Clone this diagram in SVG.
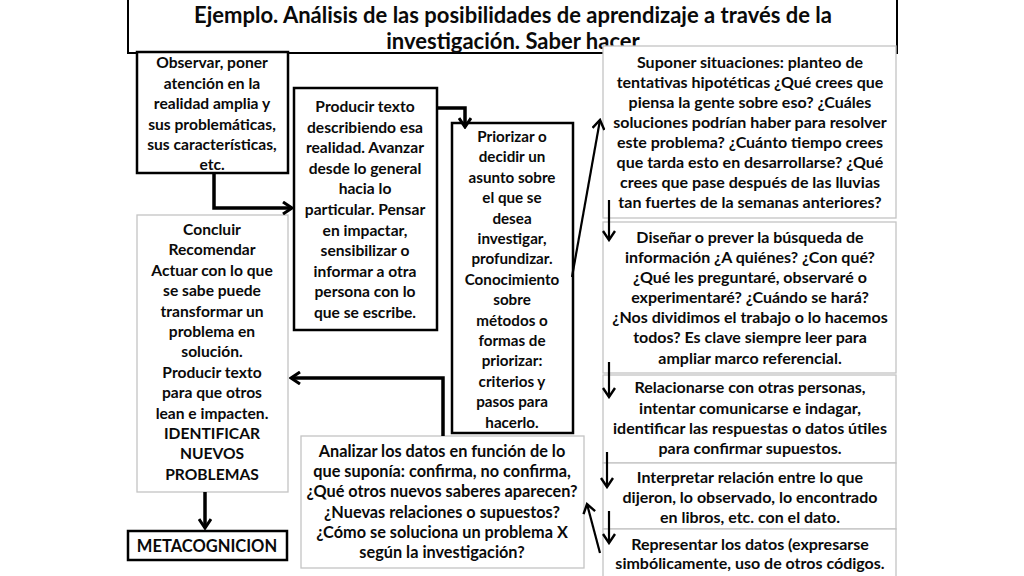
<svg xmlns="http://www.w3.org/2000/svg" width="1024" height="576" viewBox="0 0 1024 576">
<defs>
<style>
.bk{fill:#fff;stroke:#000;stroke-width:2.5}
.gr{fill:#fff;stroke:#c4c4c4;stroke-width:1.3}
text{font-family:Lato,"Liberation Sans",sans-serif;font-weight:bold;font-size:15.6px;text-anchor:middle;fill:#0a0a0a}
.r{font-size:16px}
.a{font-size:16.3px}
.ttl{font-size:22px}
.c{fill:none;stroke:#000;stroke-width:3.5}
.t{fill:none;stroke:#000;stroke-width:2.2}
</style>
<marker id="ah" markerUnits="userSpaceOnUse" viewBox="0 0 12 14" refX="10" refY="7" markerWidth="12" markerHeight="14" orient="auto">
<path d="M1,1 L10,7 L1,13" fill="none" stroke="#000" stroke-width="3"/>
</marker>
<marker id="ahs" markerUnits="userSpaceOnUse" viewBox="0 0 12 14" refX="10" refY="7" markerWidth="12" markerHeight="14" orient="auto">
<path d="M1,1 L10,7 L1,13" fill="none" stroke="#000" stroke-width="2.4"/>
</marker>
</defs>
<rect width="1024" height="576" fill="#fff"/>

<g id="title">
<rect x="128" y="-3" width="769" height="56" fill="#fff" stroke="#000" stroke-width="2"/>
<text class="ttl" x="513" y="23">Ejemplo. Análisis de las posibilidades de aprendizaje a través de la</text>
<text class="ttl" x="513" y="49">investigación. Saber hacer</text>
</g>

<g id="observar">
<rect class="bk" x="137" y="52" width="151" height="121"/>
<text><tspan x="212" y="68">Observar, poner</tspan><tspan x="212" y="88.5">atención en la</tspan><tspan x="212" y="109">realidad amplia y</tspan><tspan x="212" y="129.5">sus problemáticas,</tspan><tspan x="212" y="150">sus características,</tspan><tspan x="212" y="170">etc.</tspan></text>
</g>

<g id="producir">
<rect class="bk" x="294" y="88" width="143" height="242"/>
<text><tspan x="365" y="112">Producir texto</tspan><tspan x="365" y="132.6">describiendo esa</tspan><tspan x="365" y="153.2">realidad.  Avanzar</tspan><tspan x="365" y="173.8">desde lo general</tspan><tspan x="365" y="194.4">hacia lo</tspan><tspan x="365" y="215">particular. Pensar</tspan><tspan x="365" y="235.6">en impactar,</tspan><tspan x="365" y="256.2">sensibilizar o</tspan><tspan x="365" y="276.8">informar a otra</tspan><tspan x="365" y="297.4">persona con lo</tspan><tspan x="365" y="318">que se escribe.</tspan></text>
</g>

<g id="priorizar">
<rect class="bk" x="452" y="123" width="121" height="310"/>
<text style="font-size:15.2px"><tspan x="512" y="142">Priorizar o</tspan><tspan x="512" y="162.4">decidir un</tspan><tspan x="512" y="182.8">asunto sobre</tspan><tspan x="512" y="203.2">el que se</tspan><tspan x="512" y="223.6">desea</tspan><tspan x="512" y="244">investigar,</tspan><tspan x="512" y="264.4">profundizar.</tspan><tspan x="512" y="284.8">Conocimiento</tspan><tspan x="512" y="305.2">sobre</tspan><tspan x="512" y="325.6">métodos o</tspan><tspan x="512" y="346">formas de</tspan><tspan x="512" y="366.4">priorizar:</tspan><tspan x="512" y="386.8">criterios y</tspan><tspan x="512" y="407.2">pasos para</tspan><tspan x="512" y="427.6">hacerlo.</tspan></text>
</g>

<g id="suponer">
<rect class="gr" x="603" y="46" width="293" height="172"/>
<text class="r"><tspan x="750" y="68">Suponer situaciones: planteo de</tspan><tspan x="750" y="88">tentativas hipotéticas ¿Qué crees que</tspan><tspan x="750" y="108">piensa la gente sobre eso? ¿Cuáles</tspan><tspan x="750" y="127.5">soluciones podrían haber para resolver</tspan><tspan x="750" y="147.5">este problema? ¿Cuánto tiempo crees</tspan><tspan x="750" y="167.5">que tarda esto en desarrollarse? ¿Qué</tspan><tspan x="750" y="187.5">crees que pase después de las lluvias</tspan><tspan x="750" y="208">tan fuertes de la semanas anteriores?</tspan></text>
</g>

<g id="disenar">
<rect class="gr" x="603" y="222" width="293" height="151"/>
<text class="r"><tspan x="750" y="243">Diseñar o prever la búsqueda de</tspan><tspan x="750" y="263">información ¿A quiénes? ¿Con qué?</tspan><tspan x="750" y="283">¿Qué les preguntaré, observaré o</tspan><tspan x="750" y="303">experimentaré? ¿Cuándo se hará?</tspan><tspan x="750" y="323">¿Nos dividimos el trabajo o lo hacemos</tspan><tspan x="750" y="343">todos?  Es clave siempre leer para</tspan><tspan x="750" y="364">ampliar marco referencial.</tspan></text>
</g>

<g id="relacionarse">
<rect class="gr" x="603" y="375" width="293" height="88"/>
<text class="r"><tspan x="750" y="393">Relacionarse con otras personas,</tspan><tspan x="750" y="413.5">intentar comunicarse e indagar,</tspan><tspan x="750" y="433.5">identificar las respuestas o datos  útiles</tspan><tspan x="750" y="453.5">para confirmar supuestos.</tspan></text>
</g>

<g id="interpretar">
<rect class="gr" x="603" y="463" width="293" height="66"/>
<text class="r"><tspan x="750" y="483">Interpretar relación entre lo que</tspan><tspan x="750" y="503">dijeron, lo observado, lo encontrado</tspan><tspan x="750" y="523">en libros, etc. con el dato.</tspan></text>
</g>

<g id="representar">
<rect class="gr" x="603" y="529" width="293" height="52"/>
<text class="r"><tspan x="750" y="550">Representar los datos (expresarse</tspan><tspan x="750" y="569">simbólicamente, uso de otros códigos.</tspan></text>
</g>

<g id="analizar">
<rect class="gr" x="301" y="436" width="283" height="132"/>
<text class="a"><tspan x="442" y="457">Analizar los datos en función de lo</tspan><tspan x="442" y="477">que suponía: confirma, no confirma,</tspan><tspan x="442" y="497">¿Qué otros nuevos saberes aparecen?</tspan><tspan x="442" y="517.5">¿Nuevas relaciones o supuestos?</tspan><tspan x="442" y="538">¿Cómo se soluciona un problema X</tspan><tspan x="442" y="558">según la investigación?</tspan></text>
</g>

<g id="concluir">
<rect class="gr" x="137" y="215" width="151" height="277"/>
<text><tspan x="212" y="235">Concluir</tspan><tspan x="212" y="255.4">Recomendar</tspan><tspan x="212" y="275.8">Actuar con lo que</tspan><tspan x="212" y="296.2">se sabe puede</tspan><tspan x="212" y="316.6">transformar un</tspan><tspan x="212" y="337">problema en</tspan><tspan x="212" y="357.4">solución.</tspan><tspan x="212" y="377.8">Producir texto</tspan><tspan x="212" y="398.2">para que otros</tspan><tspan x="212" y="418.6">lean e impacten.</tspan><tspan x="212" y="439">IDENTIFICAR</tspan><tspan x="212" y="459.4">NUEVOS</tspan><tspan x="212" y="479.8">PROBLEMAS</tspan></text>
</g>

<g id="metacognicion">
<rect class="bk" x="128" y="531" width="159" height="29"/>
<text x="207" y="552" style="font-size:16.5px">METACOGNICION</text>
</g>

<g id="connectors">
<polyline class="c" points="214,173 214,208 292,208" marker-end="url(#ah)"/>
<polyline class="c" points="437,108 465,108 465,127" marker-end="url(#ah)"/>
<line class="t" x1="572" y1="277" x2="600" y2="120" marker-end="url(#ahs)"/>
<polyline class="c" points="443,436 443,378 291,378" marker-end="url(#ah)"/>
<line class="c" x1="205" y1="492" x2="205" y2="528" marker-end="url(#ah)"/>
<line class="t" x1="609" y1="200" x2="609" y2="240" marker-end="url(#ahs)"/>
<line class="t" x1="609" y1="362" x2="609" y2="397" marker-end="url(#ahs)"/>
<line class="t" x1="607" y1="452" x2="607" y2="487" marker-end="url(#ahs)"/>
<line class="t" x1="609" y1="511" x2="609" y2="543" marker-end="url(#ahs)"/>
<line class="t" x1="600" y1="553" x2="587" y2="504" marker-end="url(#ahs)"/>
</g>
</svg>
